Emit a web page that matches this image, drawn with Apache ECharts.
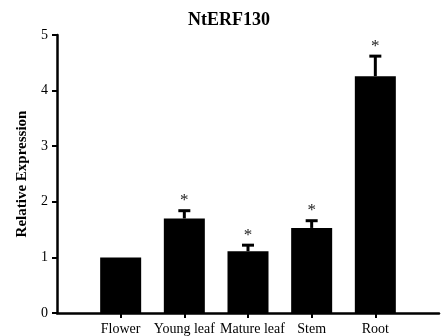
<!DOCTYPE html>
<html>
<head>
<meta charset="utf-8">
<script src="https://cdn.jsdelivr.net/npm/echarts@6/dist/echarts.min.js"></script>
<style>html,body{margin:0;padding:0;background:#fff;}#c{width:442px;height:336px;}</style>
</head>
<body>
<div id="c"></div>
<script>
const categories = ["", "Flower", "Young leaf", "Mature leaf", "Stem", "Root", ""];
const values = [null, 1.0, 1.70, 1.11, 1.53, 4.26, null];
const errors = [null, 0, 0.14, 0.11, 0.13, 0.36, null];
const marks = ["", "", "*", "*", "*", "*", ""];
const yTicks = [0, 1, 2, 3, 4, 5];

const serif = "'Liberation Serif', 'DejaVu Serif', serif";
const errData = [];
for (let i = 0; i < categories.length; i++) {
  if (values[i] != null) errData.push([i, values[i], errors[i], marks[i]]);
}

const chart = echarts.init(document.getElementById('c'));
chart.setOption({
  animation: false,
  title: {
    text: 'NtERF130', left: 183, top: 6,
    textStyle: { fontFamily: serif, fontSize: 18, fontWeight: 'bold', color: '#000' }
  },
  grid: { left: 57, right: -3, top: 35, bottom: 23, containLabel: false },
  xAxis: {
    type: 'category', data: categories, boundaryGap: false,
    axisLine: { onZero: false, lineStyle: { color: '#000', width: 2.5 } },
    axisTick: { length: 5, lineStyle: { color: '#000', width: 2 },
      interval: function (i) { return i > 0 && i < categories.length - 1; } },
    axisLabel: { interval: 0, margin: 9, fontFamily: serif, fontSize: 14, color: '#000',
      formatter: function (v) { return v === 'Mature leaf' ? '{m|' + v + '}' : v; },
      rich: { m: { fontFamily: serif, fontSize: 14, color: '#000', padding: [0, 0, 0, 9] } } },
    splitLine: { show: false }
  },
  yAxis: {
    type: 'value', min: 0, max: 5, interval: 1,
    name: 'Relative Expression', nameLocation: 'middle', nameRotate: 90, nameGap: 27,
    nameTextStyle: { fontFamily: serif, fontSize: 15, fontWeight: 'bold', color: '#000' },
    axisLine: { show: true, lineStyle: { color: '#000', width: 2.5 } },
    axisTick: { show: true, length: 5, lineStyle: { color: '#000', width: 2 } },
    axisLabel: { margin: 9, fontFamily: serif, fontSize: 14, color: '#000',
      formatter: function (v) { return yTicks.indexOf(v) >= 0 ? String(v) : ''; } },
    splitLine: { show: false }
  },
  series: [
    {
      type: 'bar', data: values, barWidth: 41,
      itemStyle: { color: '#000' }
    },
    {
      type: 'custom', data: errData, z: 3,
      renderItem: function (params, api) {
        const x = api.value(0), v = api.value(1), e = api.value(2), m = errData[params.dataIndex][3];
        const base = api.coord([x, v]);
        const top = api.coord([x, v + e]);
        const children = [];
        if (e > 0) {
          children.push({ type: 'line', shape: { x1: base[0], y1: base[1], x2: top[0], y2: top[1] },
            style: { stroke: '#000', lineWidth: 3 } });
          children.push({ type: 'line', shape: { x1: top[0] - 6, y1: top[1], x2: top[0] + 6, y2: top[1] },
            style: { stroke: '#000', lineWidth: 3 } });
        }
        if (m) {
          children.push({ type: 'text', style: { text: m, x: top[0], y: top[1] - 10,
            textAlign: 'center', textVerticalAlign: 'middle',
            fontFamily: serif, fontSize: 17, fill: '#222' } });
        }
        return { type: 'group', children: children };
      }
    }
  ]
});
</script>
</body>
</html>
